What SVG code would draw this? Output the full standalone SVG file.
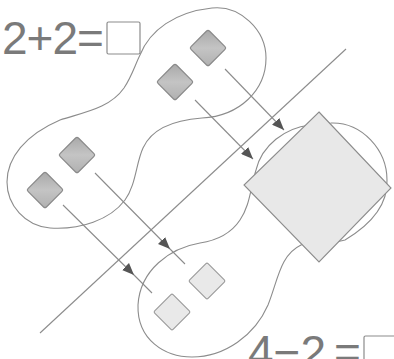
<svg xmlns="http://www.w3.org/2000/svg" width="394" height="359" viewBox="0 0 394 359">
<style>
.blob{fill:none;stroke:#8c8c8c;stroke-width:1.1}
.ln{fill:none;stroke:#8c8c8c;stroke-width:1.1}
.dk{fill:url(#gd);stroke:#8a8a8a;stroke-width:1.2}
.lt{fill:#e9e9e9;stroke:#9a9a9a;stroke-width:1.1}
.big{fill:#e8e8e8;stroke:#8c8c8c;stroke-width:1.1}
.eq{font-family:"Liberation Sans",Arial,sans-serif;font-size:46px;fill:#7a7a7a}
.box{fill:#fff;stroke:#8c8c8c;stroke-width:1.2}
</style>
<defs>
<linearGradient id="gd" x1="0" y1="0" x2="1" y2="1">
<stop offset="0" stop-color="#a8a8a8"/>
<stop offset="0.5" stop-color="#c4c4c4"/>
<stop offset="1" stop-color="#b0b0b0"/>
</linearGradient>
<marker id="ah" viewBox="0 0 12 10" refX="12" refY="5" markerWidth="12" markerHeight="10" markerUnits="userSpaceOnUse" orient="auto">
<path d="M0,0 L12,5 L0,10 Z" fill="#555"/>
</marker>
</defs>
<g id="sets">
<path id="set-top" class="blob" d="M140,55 C150,30 175,12 212,8 C240,5 266,30 266,58 C266,90 240,116 202,118 C175,120 152,128 143,148 C136,163 136,185 125,200 C110,220 80,230 50,228 C25,226 7,205 7,182 C7,158 25,135 60,120 C85,112 110,108 124,88 C132,76 135,65 140,55 Z"/>
<path id="set-bottom" class="blob" d="M310,125 C285,128 262,145 256,170 C250,190 250,205 240,220 C232,232 220,240 200,243 C170,248 140,270 138,305 C137,340 165,357 192,357 C225,357 255,335 268,305 C278,280 280,255 301,245 C315,238 330,245 345,240 C370,225 388,205 387,180 C387,150 362,122 331,123 C320,123 315,124 310,125 Z"/>
</g>
<g id="connectors">
<line id="divider" class="ln" x1="40" y1="333" x2="346" y2="49"/>
<path id="a1" class="ln" d="M225,69 L284,130" marker-end="url(#ah)"/>
<path id="a2" class="ln" d="M195,100 L253,159" marker-end="url(#ah)"/>
<path id="a3" class="ln" d="M95,173 L170,249 L185,264" marker-mid="url(#ah)"/>
<path id="a4" class="ln" d="M63,205 L134,275 L152,293" marker-mid="url(#ah)"/>
</g>
<g id="d1"><rect class="dk" x="-13" y="-13" width="26" height="26" rx="2" transform="translate(208,48) rotate(45)"/></g>
<g id="d2"><rect class="dk" x="-13" y="-13" width="26" height="26" rx="2" transform="translate(175,82) rotate(45)"/></g>
<g id="d3"><rect class="dk" x="-13" y="-13" width="26" height="26" rx="2" transform="translate(77,155) rotate(45)"/></g>
<g id="d4"><rect class="dk" x="-13" y="-13" width="26" height="26" rx="2" transform="translate(45,190) rotate(45)"/></g>
<g id="d5"><rect class="lt" x="-13" y="-13" width="26" height="26" rx="1.5" transform="translate(172,312) rotate(45)"/></g>
<g id="d6"><rect class="lt" x="-13" y="-13" width="26" height="26" rx="1.5" transform="translate(207,281) rotate(45)"/></g>
<g id="bigdiamond"><polygon class="big" points="319,112 391,188 319,262 244,185"/></g>
<g id="eq-top">
<text class="eq" x="2" y="54" letter-spacing="-1">2+2=</text>
<rect class="box" x="107" y="22" width="33" height="32" rx="1.5"/>
</g>
<g id="eq-bottom">
<text class="eq" x="248" y="368"><tspan>4−2</tspan><tspan dx="8">=</tspan></text>
<rect class="box" x="364" y="336" width="40" height="40" rx="1.5"/>
</g>
</svg>
